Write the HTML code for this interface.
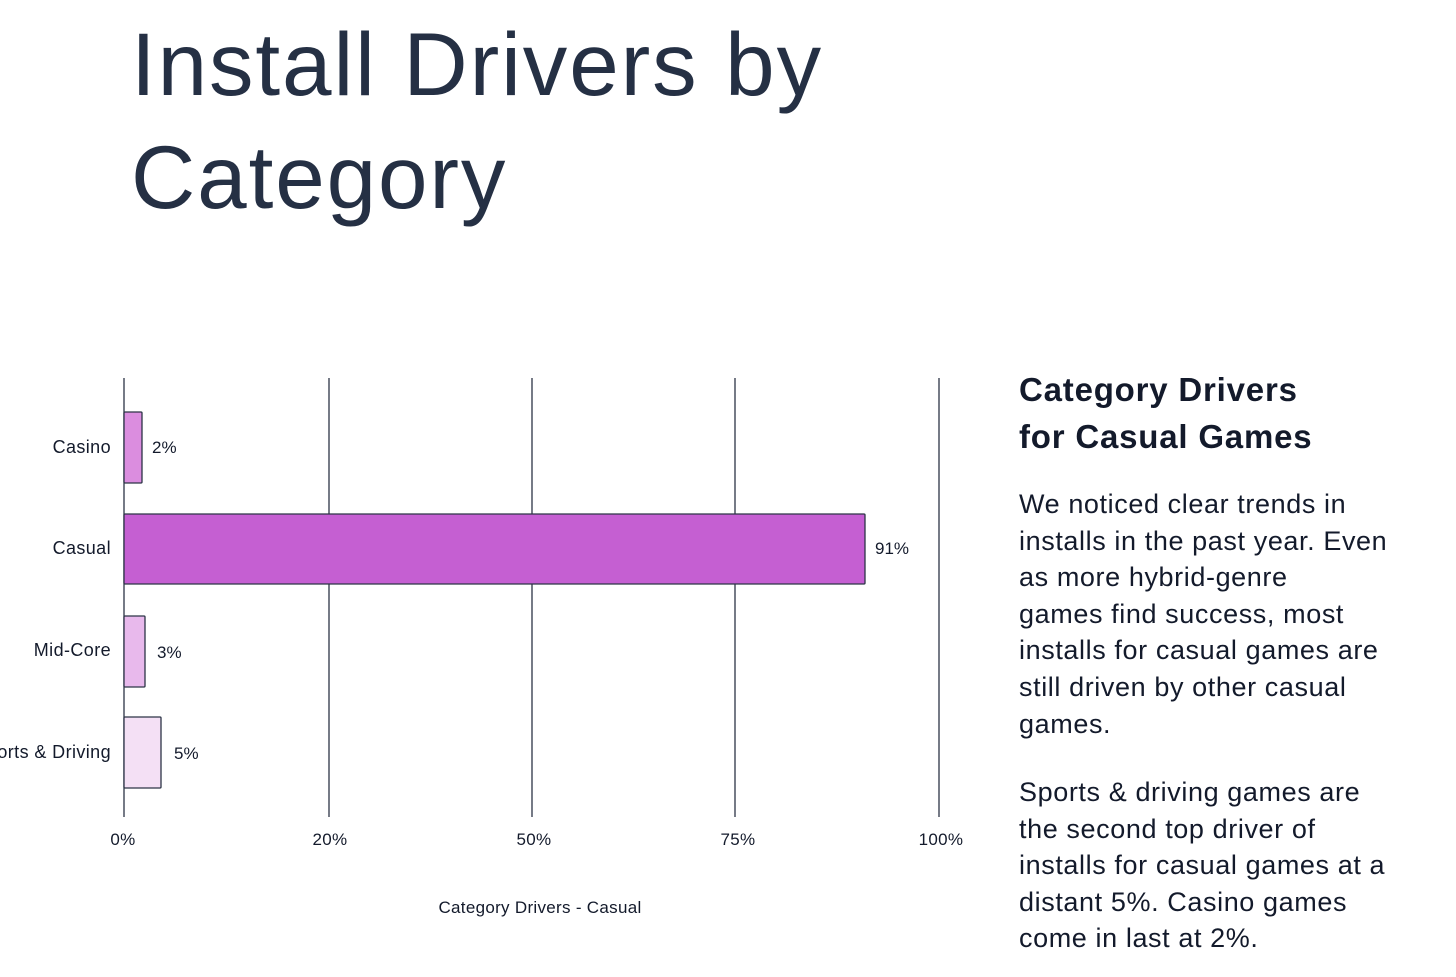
<!DOCTYPE html>
<html><head><meta charset="utf-8"><style>
body{margin:0;width:1456px;height:977px;background:#fff;overflow:hidden;font-family:"Liberation Sans",sans-serif;position:relative}
.t{position:absolute;left:131px;top:8px;font-size:89px;line-height:113px;color:#253044;letter-spacing:1.9px}
.h{position:absolute;left:1019px;top:366px;font-size:33px;line-height:47px;font-weight:bold;color:#131a2b;letter-spacing:0.8px;white-space:nowrap}
.p{position:absolute;left:1019px;font-size:27px;line-height:36.6px;color:#131a2b;white-space:nowrap;letter-spacing:0.6px}
</style></head><body>
<div class="t">Install Drivers by<br>Category</div>
<svg width="1000" height="977" style="position:absolute;left:0;top:0" font-family="Liberation Sans, sans-serif" fill="#131a2b">
<g stroke="#2c3446" stroke-width="1.3">
<line x1="124" y1="378" x2="124" y2="817"/><line x1="329" y1="378" x2="329" y2="817"/>
<line x1="532" y1="378" x2="532" y2="817"/><line x1="735" y1="378" x2="735" y2="817"/>
<line x1="939" y1="378" x2="939" y2="817"/>
<rect x="124" y="412" width="18" height="71" fill="#db8ddf" rx="1"/>
<rect x="124" y="514" width="741" height="70" fill="#c55fd2" rx="1"/>
<rect x="124" y="616" width="21" height="71" fill="#e8b9ec" rx="1"/>
<rect x="124" y="717" width="37" height="71" fill="#f4e0f5" rx="1"/>
</g>
<g font-size="18" text-anchor="end" letter-spacing="0.4">
<text x="111" y="453">Casino</text><text x="111" y="554">Casual</text>
<text x="111" y="656">Mid-Core</text><text x="111" y="758">Sports &amp; Driving</text>
</g>
<g font-size="17">
<text x="152" y="453">2%</text><text x="875" y="554">91%</text>
<text x="157" y="658">3%</text><text x="174" y="759">5%</text>
</g>
<g font-size="17" text-anchor="middle" letter-spacing="0.3">
<text x="123" y="845">0%</text><text x="330" y="845">20%</text><text x="534" y="845">50%</text>
<text x="738" y="845">75%</text><text x="941" y="845">100%</text>
<text x="540" y="913">Category Drivers - Casual</text>
</g>
</svg>
<div class="h">Category Drivers<br>for Casual Games</div>
<div class="p" style="top:486px">We noticed clear trends in<br>installs in the past year. Even<br>as more hybrid-genre<br>games find success, most<br>installs for casual games are<br>still driven by other casual<br>games.</div>
<div class="p" style="top:774px">Sports &amp; driving games are<br>the second top driver of<br>installs for casual games at a<br>distant 5%. Casino games<br>come in last at 2%.</div>
</body></html>
